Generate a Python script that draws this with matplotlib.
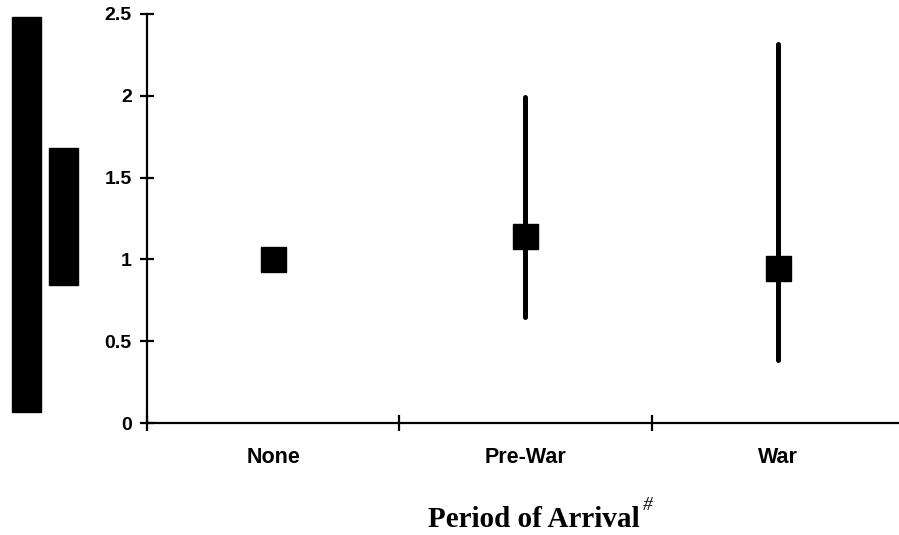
import matplotlib
matplotlib.use("Agg")
import matplotlib.pyplot as plt
from matplotlib.patches import Rectangle

categories = ["None", "Pre-War", "War"]
estimates = [1.0, 1.14, 0.945]
ci_low = [None, 0.65, 0.385]
ci_high = [None, 1.99, 2.315]
yticks = [0, 0.5, 1, 1.5, 2, 2.5]
ytick_labels = ["0", "0.5", "1", "1.5", "2", "2.5"]
xlabel = "Period of Arrival"

W, H = 899, 535
fig = plt.figure(figsize=(W / 100, H / 100), dpi=100)
ax = fig.add_axes([147 / W, (H - 423) / H, (904 - 147) / W, (423 - 14) / H])

x = list(range(len(categories)))
for xi, est, lo, hi in zip(x, estimates, ci_low, ci_high):
    if lo is not None:
        ax.plot([xi, xi], [lo, hi], color="black", lw=3.6, solid_capstyle="round", zorder=2)
    ax.plot([xi], [est], marker="s", ms=18, color="black", mec="black", zorder=3)

ax.set_xlim(-0.5, 2.5)
ax.set_ylim(0, 2.5)
ax.set_yticks(yticks)
ax.set_yticklabels(ytick_labels)
ax.set_xticks([-0.5, 0.5, 1.5, 2.5])
ax.set_xticklabels([])
ax.set_xticks(x, minor=True)
ax.set_xticklabels(categories, minor=True)

for s in ["top", "right"]:
    ax.spines[s].set_visible(False)
for s in ["left", "bottom"]:
    ax.spines[s].set_linewidth(1.6)
    ax.spines[s].set_clip_on(False)

ax.tick_params(axis="y", which="major", direction="inout", length=10, width=1.6, pad=6)
ax.tick_params(axis="x", which="major", direction="inout", length=12, width=1.6)
ax.tick_params(axis="x", which="minor", length=0, pad=17)
for lab in ax.get_yticklabels():
    lab.set_fontfamily("Liberation Sans")
    lab.set_fontweight("bold")
    lab.set_fontsize(14)
for lab in ax.get_xticklabels(minor=True):
    lab.set_fontfamily("Liberation Sans")
    lab.set_fontweight("bold")
    lab.set_fontsize(15.5)

fig.text(534 / W, 1 - 527 / H, xlabel, ha="center", va="baseline",
         fontfamily="Liberation Serif", fontweight="bold", fontsize=21)
fig.canvas.draw()
t = fig.texts[-1]
bb = t.get_window_extent()
fig.text(bb.x1 / W + 3 / W, 1 - 510 / H, "#", ha="left", va="baseline",
         fontfamily="Liberation Serif", fontstyle="italic", fontsize=14)

# redaction boxes over original y-axis label
fig.patches.append(Rectangle((12 / W, 1 - 412 / H), 29 / W, 395 / H,
                             transform=fig.transFigure, color="black", zorder=5))
fig.patches.append(Rectangle((49 / W, 1 - 285 / H), 29 / W, 137 / H,
                             transform=fig.transFigure, color="black", zorder=5))

fig.savefig("out.png", dpi=100)
